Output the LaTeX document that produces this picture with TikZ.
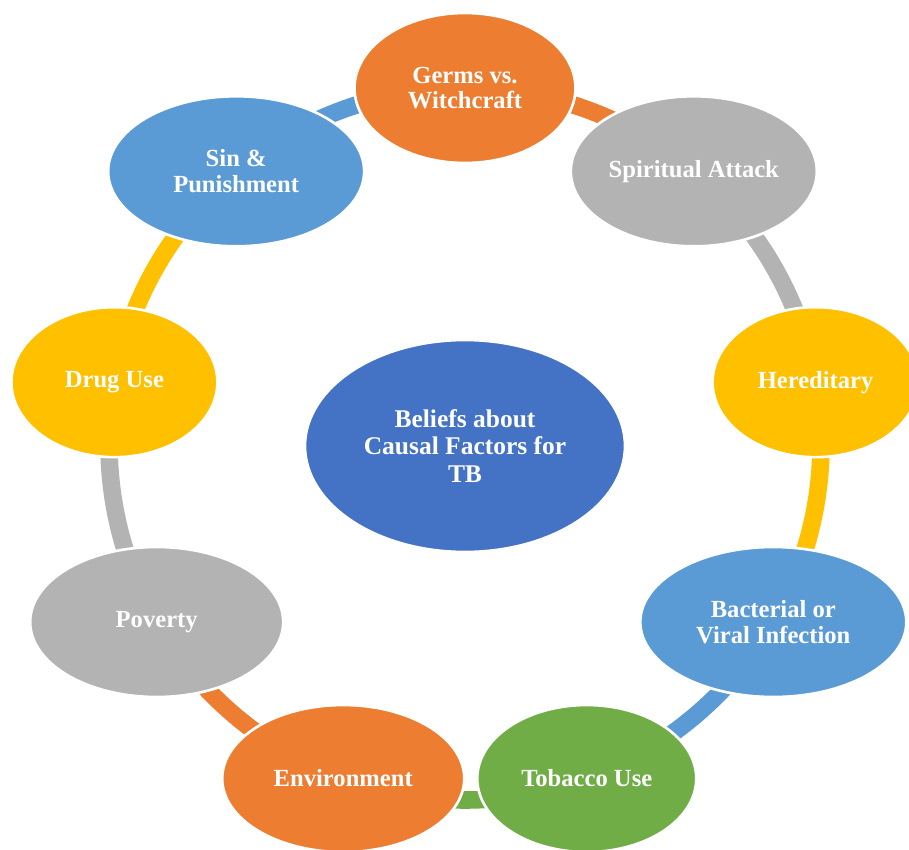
\documentclass[tikz,border=0pt]{standalone}
\usepackage{fontspec}
\setmainfont{Liberation Serif}
\usetikzlibrary{shapes.geometric,backgrounds}
\definecolor{cOrange}{HTML}{ED7D31}
\definecolor{cGray}{HTML}{B3B3B3}
\definecolor{cYellow}{HTML}{FFC000}
\definecolor{cBlue}{HTML}{5B9BD5}
\definecolor{cGreen}{HTML}{70AD47}
\definecolor{cDark}{HTML}{4472C4}

\begin{document}
\begin{tikzpicture}[
  font=\fontsize{14}{14.5}\selectfont\bfseries,
  e/.style={ellipse, draw=white, line width=1.5pt, text=white, align=center,
            inner sep=0pt, minimum height=30mm},
  ring/.style={line width=10pt},
]
\useasboundingbox (-9.3,-8.12) rectangle (8.88,8.88);

% centre
\node[e, fill=cDark, minimum width=64mm, minimum height=42.4mm,
      font=\fontsize{14.5}{15.5}\selectfont\bfseries] (tb) at (0,-0.04)
  {Beliefs about\\Causal Factors for\\TB};

% ring of causes, clockwise from the top
\node[e, fill=cOrange, minimum width=44.2mm] (germs) at (90:7.12) {Germs vs.\\Witchcraft};
\node[e, fill=cGray, minimum width=49.2mm] (spirit) at (50:7.12) {Spiritual Attack};
\node[e, fill=cYellow, minimum width=41.2mm] (hered) at (10:7.12) {Hereditary};
\node[e, fill=cBlue, minimum width=53.2mm] (bact) at (-30:7.12) {Bacterial or\\Viral Infection};
\node[e, fill=cGreen, minimum width=43.8mm, minimum height=29.4mm] (tobac) at (-70:7.12) {Tobacco Use};
\node[e, fill=cOrange, minimum width=48.4mm, minimum height=29.4mm] (envir) at (-110:7.12) {Environment};
\node[e, fill=cGray, minimum width=50.6mm] (pov) at (-150:7.12) {Poverty};
\node[e, fill=cYellow, minimum width=41.2mm] (drug) at (170:7.12) {Drug Use};
\node[e, fill=cBlue, minimum width=51.2mm] (sin) at (130:7.12) {Sin \&\\Punishment};

% arc segments behind the ellipses
\begin{pgfonlayer}{background}
\foreach \f/\a/\c in {germs/90/cOrange, spirit/50/cGray, hered/10/cYellow,
    bact/-30/cBlue, tobac/-70/cGreen, envir/-110/cOrange, pov/-150/cGray,
    drug/170/cYellow, sin/130/cBlue}
  \draw[ring, draw=\c] (\f.center) arc[start angle=\a, end angle=\a-40, radius=7.12];
\end{pgfonlayer}
\end{tikzpicture}
\end{document}
